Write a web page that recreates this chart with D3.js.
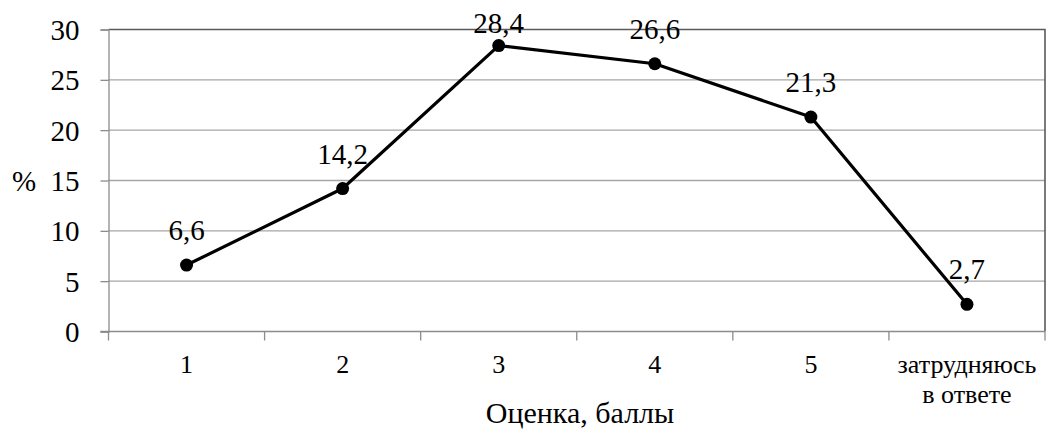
<!DOCTYPE html>
<html>
<head>
<meta charset="utf-8">
<script src="https://cdn.jsdelivr.net/npm/d3@7"></script>
<style>
  html, body { margin: 0; padding: 0; background: #fff; }
  svg { display: block; }
</style>
</head>
<body>
<svg id="chart" width="1047" height="432"></svg>
<script>
// Score distribution, per cent of respondents
const categories = ["1", "2", "3", "4", "5", "затрудняюсь\nв ответе"];
const values = [6.6, 14.2, 28.4, 26.6, 21.3, 2.7];
const yTicks = [0, 5, 10, 15, 20, 25, 30];
const yLabel = "%";
const xLabel = "Оценка, баллы";

const FONT = "'Times New Roman', 'Liberation Serif', 'Liberation Sans', Arial, sans-serif";
const W = 1047, H = 432;
const m = { left: 108.5, right: 2, top: 29.5, bottom: 100.5 };
const svg = d3.select("#chart").attr("font-family", FONT);

const x = d3.scaleBand().domain(categories).range([m.left, W - m.right]);
const y = d3.scaleLinear().domain([0, 30]).range([H - m.bottom, m.top]);

// horizontal gridlines
svg.append("g")
  .selectAll("line").data(yTicks.filter(t => t > 0 && t < 30)).join("line")
  .attr("x1", m.left).attr("x2", W - m.right)
  .attr("y1", d => y(d)).attr("y2", d => y(d))
  .attr("stroke", "#a6a6a6").attr("stroke-width", 1.3);

// top and right frame
svg.append("path")
  .attr("d", `M${m.left},${y(30)}H${W - m.right}V${y(0)}`)
  .attr("fill", "none").attr("stroke", "#5a5a5a").attr("stroke-width", 1.6);

// y axis
const yAxis = svg.append("g")
  .attr("transform", `translate(${m.left},0)`)
  .call(d3.axisLeft(y).tickValues(yTicks).tickSize(8).tickPadding(21))
  .attr("font-family", FONT).attr("font-size", 29);
yAxis.select(".domain").attr("stroke", "#8c8c8c").attr("stroke-width", 1.3);
yAxis.selectAll(".tick line").attr("stroke", "#8c8c8c").attr("stroke-width", 1.3);
yAxis.selectAll(".tick text").attr("fill", "#000").attr("dy", "0.35em");

// x axis with tick marks at category boundaries
const xAxisG = svg.append("g").attr("transform", `translate(0,${y(0)})`);
xAxisG.append("line")
  .attr("x1", m.left - 8).attr("x2", W - m.right)
  .attr("stroke", "#8c8c8c").attr("stroke-width", 1.3);
const bounds = categories.map(c => x(c)).concat([x(categories[categories.length - 1]) + x.bandwidth()]);
xAxisG.selectAll("line.tk").data(bounds).join("line").attr("class", "tk")
  .attr("x1", d => d).attr("x2", d => d).attr("y1", 0).attr("y2", 9)
  .attr("stroke", "#8c8c8c").attr("stroke-width", 1.3);

// category labels (multi-line)
const cx = d => x(d) + x.bandwidth() / 2;
svg.append("g").selectAll("text").data(categories).join("text")
  .attr("x", d => cx(d)).attr("y", 373)
  .attr("text-anchor", "middle")
  .attr("font-size", 26)
  .each(function (d) {
    const lines = d.split("\n");
    d3.select(this).selectAll("tspan").data(lines).join("tspan")
      .attr("x", cx(d)).attr("dy", (l, i) => i === 0 ? 0 : 30).text(l => l);
  });

// axis titles
svg.append("text").attr("x", 580).attr("y", 423).attr("text-anchor", "middle")
  .attr("font-size", 30).text(xLabel);
svg.append("text").attr("x", 24).attr("y", y(15)).attr("dy", "0.35em").attr("text-anchor", "middle")
  .attr("font-size", 29).text(yLabel);

// line series
const pts = categories.map((c, i) => ({ c, v: values[i] }));
svg.append("path").datum(pts)
  .attr("d", d3.line().x(d => cx(d.c)).y(d => y(d.v)))
  .attr("fill", "none").attr("stroke", "#000").attr("stroke-width", 3.2)
  .attr("stroke-linejoin", "round");

svg.append("g").selectAll("circle").data(pts).join("circle")
  .attr("cx", d => cx(d.c)).attr("cy", d => y(d.v)).attr("r", 6.5).attr("fill", "#000");

// value labels, kept inside the chart area
const fmt = v => d3.format(".1f")(v).replace(".", ",");
svg.append("g").selectAll("text").data(pts).join("text")
  .attr("x", d => cx(d.c))
  .attr("y", d => Math.max(y(d.v) - 25, 33))
  .attr("text-anchor", "middle")
  .attr("font-size", 29)
  .text(d => fmt(d.v));
</script>
</body>
</html>
